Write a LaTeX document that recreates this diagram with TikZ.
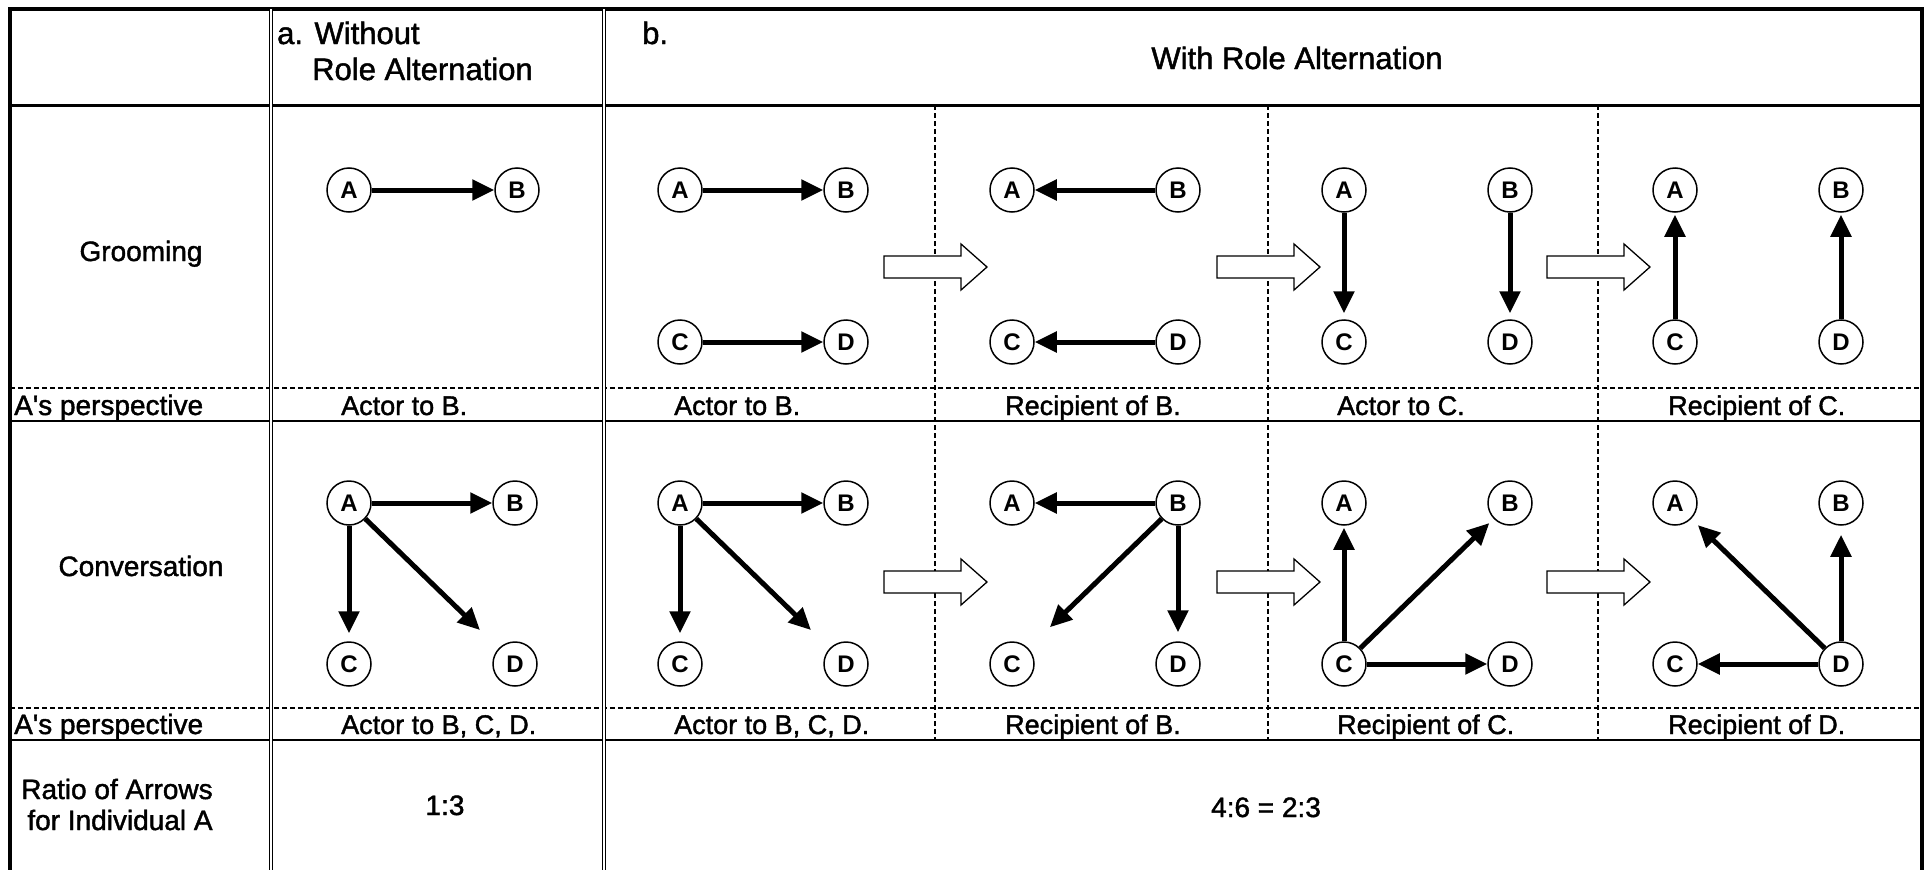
\documentclass[tikz,border=0pt]{standalone}
\usepackage{fontspec}
\setmainfont{Liberation Sans}
\newfontfamily\tabfont{Liberation Sans}[FakeBold=1.5]
\usetikzlibrary{arrows.meta}

\begin{document}
\begin{tikzpicture}[
    x=1pt, y=-1pt,
    >={Triangle[length=22pt, width=20pt]},
    agent/.style={circle, draw, line width=1.5pt, minimum size=44pt,
                  inner sep=0pt, font=\fontsize{24}{24}\selectfont\bfseries},
    act/.style={->, line width=5pt},
    txt/.style={font=\tabfont\fontsize{28}{32}\selectfont, inner sep=0pt},
    lbl/.style={font=\tabfont\fontsize{27}{32}\selectfont, inner sep=0pt, anchor=base west},
    head/.style={font=\tabfont\fontsize{31}{36}\selectfont, inner sep=0pt},
    blockarr/.style={draw, line width=1.3pt, fill=white},
    frame/.style={line width=4pt},
    dbl/.style={double, double distance=2.5pt, line width=1.2pt},
    cut/.style={dash pattern=on 5pt off 3pt, line width=1.3pt},
]
    \useasboundingbox (0,0) rectangle (1928,870);

    % Table rules
    \draw[cut] (10,388) -- (1922,388);
    \draw[cut] (10,708) -- (1922,708);
    \foreach \x in {935,1268,1598}
        \draw[cut] (\x,105) -- (\x,740);
    \draw[line width=3pt] (10,105) -- (1922,105);
    \draw[line width=1.5pt] (10,421) -- (1922,421);
    \draw[line width=1.5pt] (10,740) -- (1922,740);
    \draw[frame] (10,870) -- (10,9) -- (1922,9) -- (1922,870);
    \draw[dbl] (271,9) -- (271,870);
    \draw[dbl] (604,9) -- (604,870);

    % Header
    \node[head, anchor=base west] (hdA) at (277,44) {a. Without};
    \node[head, anchor=base west] (hdAb) at (312,80) {Role Alternation};
    \node[head, anchor=base west] (hdB) at (642,44) {b.};
    \node[head, anchor=base] (hdBb) at (1297,69) {With Role Alternation};

    % Row titles
    \node[txt, anchor=base] (groom) at (141,261) {Grooming};
    \node[txt, anchor=base] (conv) at (141,576) {Conversation};
    \node[txt, anchor=base west] (perspG) at (14,415) {A\textquotesingle s perspective};
    \node[txt, anchor=base west] (perspC) at (14,734) {A\textquotesingle s perspective};
    \node[txt, anchor=base] (ratioT) at (117,799) {Ratio of Arrows};
    \node[txt, anchor=base] (ratioTb) at (120,830) {for Individual A};

    % Block arrows between steps
    \foreach \x in {935,1268,1598}
        \foreach \y in {267,582}
            \draw[blockarr] (\x-51,\y-11) -- ++(77,0) -- ++(0,-12) -- ++(26,23)
                -- ++(-26,23) -- ++(0,-12) -- ++(-77,0) -- cycle;

    % Grooming individuals
    \node[agent] (gA0) at (349,190) {A};
    \node[agent] (gB0) at (517,190) {B};
    \foreach \p/\xa in {1/680, 2/1012, 3/1344, 4/1675} {
        \node[agent] (gA\p) at (\xa,190) {A};
        \node[agent] (gB\p) at (\xa+166,190) {B};
        \node[agent] (gC\p) at (\xa,342) {C};
        \node[agent] (gD\p) at (\xa+166,342) {D};
    }

    % Conversation individuals
    \foreach \p/\xa in {0/349, 1/680, 2/1012, 3/1344, 4/1675} {
        \node[agent] (cA\p) at (\xa,503) {A};
        \node[agent] (cB\p) at (\xa+166,503) {B};
        \node[agent] (cC\p) at (\xa,664) {C};
        \node[agent] (cD\p) at (\xa+166,664) {D};
    }

    % Grooming acts
    \draw[act] (gA0) -- (gB0);
    \draw[act] (gA1) -- (gB1);
    \draw[act] (gC1) -- (gD1);
    \draw[act] (gB2) -- (gA2);
    \draw[act] (gD2) -- (gC2);
    \draw[act, shorten >=6pt] (gA3) -- (gC3);
    \draw[act, shorten >=6pt] (gB3) -- (gD3);
    \draw[act, shorten >=2pt] (gC4) -- (gA4);
    \draw[act, shorten >=2pt] (gD4) -- (gB4);

    % Conversation acts
    \foreach \p in {0,1} {
        \draw[act] (cA\p) -- (cB\p);
        \draw[act, shorten >=8pt] (cA\p) -- (cC\p);
        \draw[act, shorten >=26pt] (cA\p) -- (cD\p);
    }
    \draw[act] (cB2) -- (cA2);
    \draw[act, shorten >=30pt] (cB2) -- (cC2);
    \draw[act, shorten >=9pt] (cB2) -- (cD2);
    \draw[act, shorten >=2pt] (cC3) -- (cA3);
    \draw[act, shorten >=6pt] (cC3) -- (cB3);
    \draw[act] (cC3) -- (cD3);
    \draw[act, shorten >=9pt] (cD4) -- (cA4);
    \draw[act, shorten >=9pt] (cD4) -- (cB4);
    \draw[act] (cD4) -- (cC4);

    % Perspective labels
    \node[lbl] (pg0) at (341,415) {Actor to B.};
    \node[lbl] (pg1) at (674,415) {Actor to B.};
    \node[lbl] (pg2) at (1005,415) {Recipient of B.};
    \node[lbl] (pg3) at (1337,415) {Actor to C.};
    \node[lbl] (pg4) at (1668,415) {Recipient of C.};
    \node[lbl] (pc0) at (341,734) {Actor to B, C, D.};
    \node[lbl] (pc1) at (674,734) {Actor to B, C, D.};
    \node[lbl] (pc2) at (1005,734) {Recipient of B.};
    \node[lbl] (pc3) at (1337,734) {Recipient of C.};
    \node[lbl] (pc4) at (1668,734) {Recipient of D.};

    % Ratios
    \node[txt, anchor=base] (ratioA) at (445,815) {1:3};
    \node[txt, anchor=base] (ratioB) at (1266,817) {4:6 = 2:3};
\end{tikzpicture}
\end{document}
